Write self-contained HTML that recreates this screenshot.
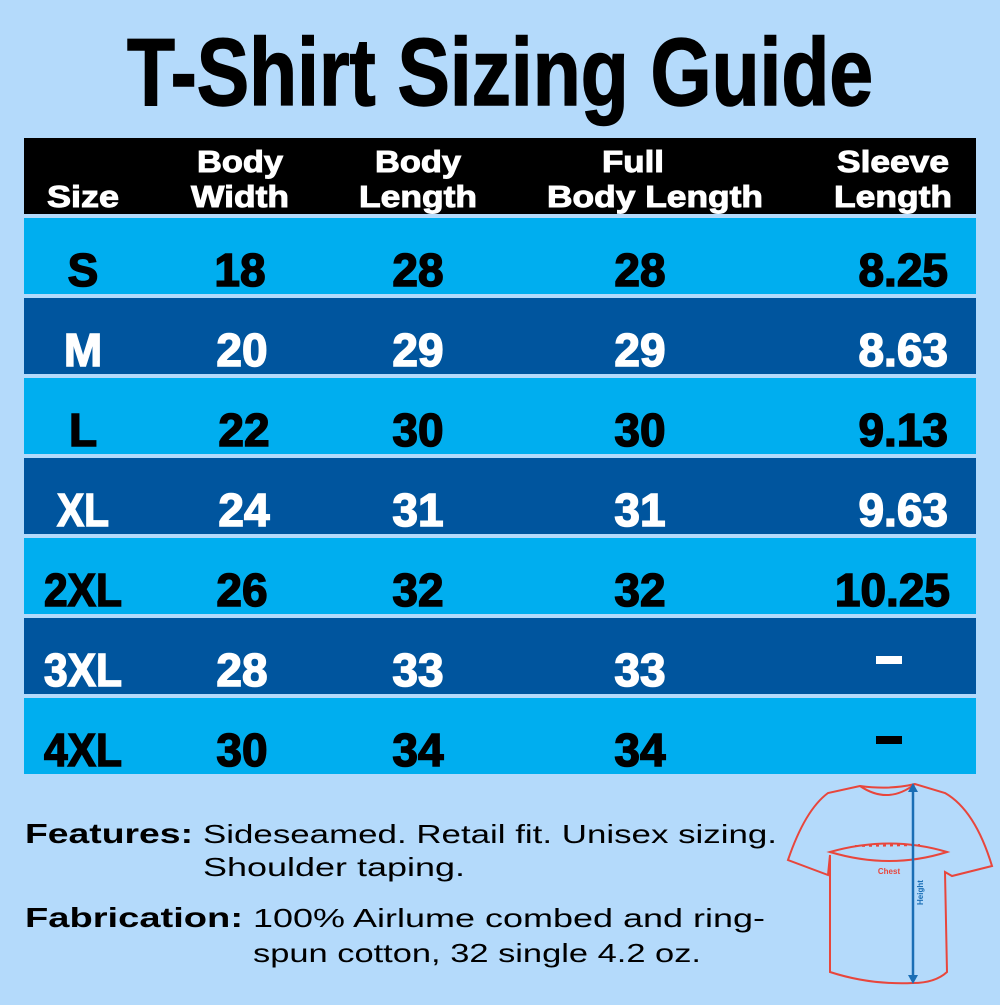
<!DOCTYPE html>
<html><head><style>html,body{margin:0;padding:0;background:#b4dafb}</style></head><body>
<svg width="1000" height="1000" viewBox="0 0 1000 1000" xmlns="http://www.w3.org/2000/svg" font-family="Liberation Sans, sans-serif">
<rect width="1000" height="1000" fill="#b4dafb"/>
<text x="500" y="105" text-anchor="middle" font-size="96" font-weight="bold" textLength="746" lengthAdjust="spacingAndGlyphs" fill="#000" stroke="#000" stroke-width="1.5">T-Shirt Sizing Guide</text>
<rect x="24" y="138" width="952" height="76" fill="#000"/>
<g fill="#fff" stroke="#fff" stroke-width="1" font-weight="bold" font-size="31" text-anchor="middle">
<text x="83" y="207" textLength="72" lengthAdjust="spacingAndGlyphs">Size</text>
<text x="240" y="172" textLength="86" lengthAdjust="spacingAndGlyphs">Body</text>
<text x="240" y="207" textLength="98" lengthAdjust="spacingAndGlyphs">Width</text>
<text x="418" y="172" textLength="86" lengthAdjust="spacingAndGlyphs">Body</text>
<text x="418" y="207" textLength="118" lengthAdjust="spacingAndGlyphs">Length</text>
<text x="633" y="172" textLength="62" lengthAdjust="spacingAndGlyphs">Full</text>
<text x="655" y="207" textLength="216" lengthAdjust="spacingAndGlyphs">Body Length</text>
<text x="893" y="172" textLength="112" lengthAdjust="spacingAndGlyphs">Sleeve</text>
<text x="893" y="207" textLength="118" lengthAdjust="spacingAndGlyphs">Length</text>
</g>
<g font-weight="bold" font-size="46" stroke-width="1.5">
<rect x="24" y="218" width="952" height="76" fill="#00aeef"/>
<rect x="24" y="298" width="952" height="76" fill="#00559e"/>
<rect x="24" y="378" width="952" height="76" fill="#00aeef"/>
<rect x="24" y="458" width="952" height="76" fill="#00559e"/>
<rect x="24" y="538" width="952" height="76" fill="#00aeef"/>
<rect x="24" y="618" width="952" height="76" fill="#00559e"/>
<rect x="24" y="698" width="952" height="76" fill="#00aeef"/>
<g text-anchor="middle" fill="#000" stroke="#000">
<text x="83" y="286">S</text><text x="240" y="286">18</text><text x="418" y="286">28</text><text x="640" y="286">28</text>
<text x="83" y="446">L</text><text x="244" y="446">22</text><text x="418" y="446">30</text><text x="640" y="446">30</text>
<text x="83" y="606" textLength="78" lengthAdjust="spacingAndGlyphs">2XL</text><text x="242" y="606">26</text><text x="418" y="606">32</text><text x="640" y="606">32</text>
<text x="83" y="766" textLength="78" lengthAdjust="spacingAndGlyphs">4XL</text><text x="242" y="766">30</text><text x="418" y="766">34</text><text x="640" y="766">34</text>
</g>
<g text-anchor="end" fill="#000" stroke="#000">
<text x="948" y="286">8.25</text><text x="948" y="446">9.13</text><text x="950" y="606">10.25</text>
</g>
<rect x="876" y="736" width="26" height="8" fill="#000"/>
<g text-anchor="middle" fill="#fff" stroke="#fff">
<text x="83" y="366">M</text><text x="242" y="366">20</text><text x="418" y="366">29</text><text x="640" y="366">29</text>
<text x="83" y="526" textLength="52" lengthAdjust="spacingAndGlyphs">XL</text><text x="244" y="526">24</text><text x="418" y="526">31</text><text x="640" y="526">31</text>
<text x="83" y="686" textLength="78" lengthAdjust="spacingAndGlyphs">3XL</text><text x="242" y="686">28</text><text x="418" y="686">33</text><text x="640" y="686">33</text>
</g>
<g text-anchor="end" fill="#fff" stroke="#fff">
<text x="948" y="366">8.63</text><text x="948" y="526">9.63</text>
</g>
<rect x="876" y="656" width="26" height="8" fill="#fff"/>
</g>
<g fill="#000" font-size="26">
<text x="25" y="843" font-weight="bold" font-size="28" textLength="168" lengthAdjust="spacingAndGlyphs">Features:</text>
<text x="203" y="843" textLength="574" lengthAdjust="spacingAndGlyphs">Sideseamed. Retail fit. Unisex sizing.</text>
<text x="203" y="876" textLength="262" lengthAdjust="spacingAndGlyphs">Shoulder taping.</text>
<text x="25" y="927" font-weight="bold" font-size="28" textLength="218" lengthAdjust="spacingAndGlyphs">Fabrication:</text>
<text x="253" y="927" textLength="512" lengthAdjust="spacingAndGlyphs">100% Airlume combed and ring-</text>
<text x="253" y="962" textLength="448" lengthAdjust="spacingAndGlyphs">spun cotton, 32 single 4.2 oz.</text>
</g>
<g fill="none" stroke="#e8463c" stroke-width="2">
<path d="M860,786 L828,793 Q805,810 788,860 L828,875 L830,855 L830,972 Q870,985 913,983 Q935,983 947,972 L945,872 L952,876 L992,866 Q975,810 945,793 L915,784 Q890,790 860,786 Z"/>
<path d="M860,786 Q888,805 915,784"/>
<path d="M830,852 Q890,835 947,852 Q890,870 830,852 Z"/>
<path d="M855,846 L920,845" stroke-dasharray="3,4"/>
</g>
<text x="889" y="874" font-size="8" fill="#e8463c" text-anchor="middle" font-weight="bold">Chest</text>
<g stroke="#1a6eb5" stroke-width="2.5"><line x1="913" y1="786" x2="913" y2="981"/></g>
<path d="M908,792 L913,783 L918,792 Z M908,975 L913,984 L918,975 Z" fill="#1a6eb5"/>
<text x="923" y="905" font-size="8" fill="#1a6eb5" font-weight="bold" transform="rotate(-90 923 905)">Height</text>
</svg>
</body></html>
